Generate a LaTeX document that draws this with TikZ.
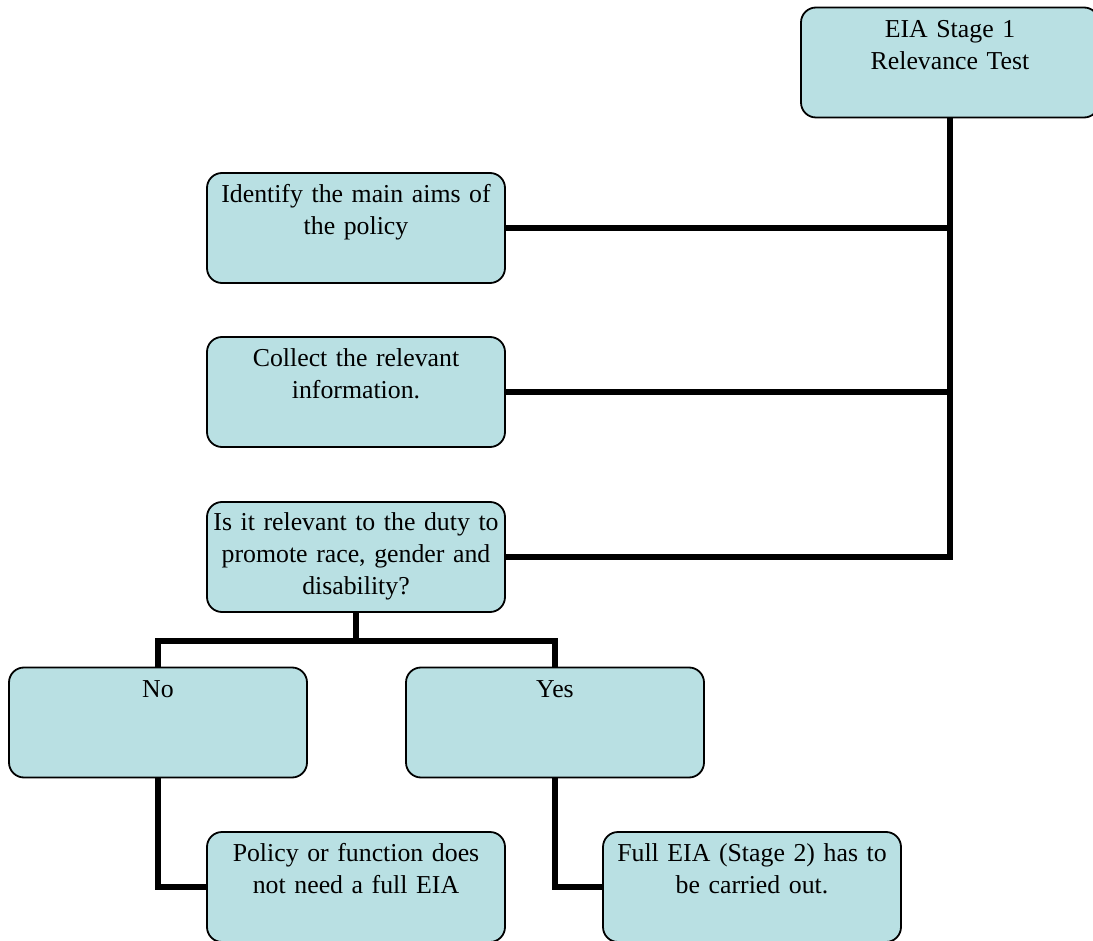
\documentclass[tikz,border=0pt]{standalone}
\usepackage{fontspec}
\setmainfont{Liberation Serif}
\usetikzlibrary{positioning}

\definecolor{boxfill}{RGB}{185,224,227}

\tikzset{
	stagebox/.style = {draw = black, line width = 1.8pt, fill = boxfill, rounded corners = 15pt, minimum width = 298pt, minimum height = 110pt, inner sep = 0pt},
	boxtext/.style = {anchor = north, inner sep = 0pt, text width = 298pt, align = center, font = \fontsize{25.8}{32}\selectfont},
	link/.style = {line width = 6pt, line join = miter}
}

\begin{document}
\begin{tikzpicture}[x = 1pt, y = -1pt]
	%	page size
	\useasboundingbox[fill = white] (0, 0) rectangle (1093, 941);
	
	%	boxes
	\node[stagebox] (stage) at (950, 62.5) {};
	\node[stagebox] (aims) at (356, 228) {};
	\node[stagebox] (info) at (356, 392) {};
	\node[stagebox] (relev) at (356, 557) {};
	\node[stagebox] (no) at (158, 722.5) {};
	\node[stagebox] (yes) at (555, 722.5) {};
	\node[stagebox] (policy) at (356, 887) {};
	\node[stagebox] (full) at (752, 887) {};
	
	%	texts
	\node[boxtext, below = 14pt of stage.north] (stagetxt) {EIA Stage 1\\Relevance Test};
	\node[boxtext, below = 12pt of aims.north] (aimstxt) {Identify the main aims of\\the policy};
	\node[boxtext, below = 12pt of info.north] (infotxt) {Collect the relevant\\information.};
	\node[boxtext, below = 11pt of relev.north] (relevtxt) {Is it relevant to the duty to\\promote race, gender and\\disability?};
	\node[boxtext, below = 14pt of no.north] (notxt) {No};
	\node[boxtext, below = 14pt of yes.north] (yestxt) {Yes};
	\node[boxtext, below = 12pt of policy.north] (policytxt) {Policy or function does\\not need a full EIA};
	\node[boxtext, below = 12pt of full.north] (fulltxt) {Full EIA (Stage 2) has to\\be carried out.};
	
	%	connectors
	\draw[link] (stage.south) |- (relev.east);
	\draw[link] (aims.east) -- (aims.east -| stage.south);
	\draw[link] (info.east) -- (info.east -| stage.south);
	\draw[link] (relev.south) -- ++(0, 28) coordinate (split) -| (no.north);
	\draw[link] (split) -| (yes.north);
	\draw[link] (no.south) |- (policy.west);
	\draw[link] (yes.south) |- (full.west);
\end{tikzpicture}
\end{document}
